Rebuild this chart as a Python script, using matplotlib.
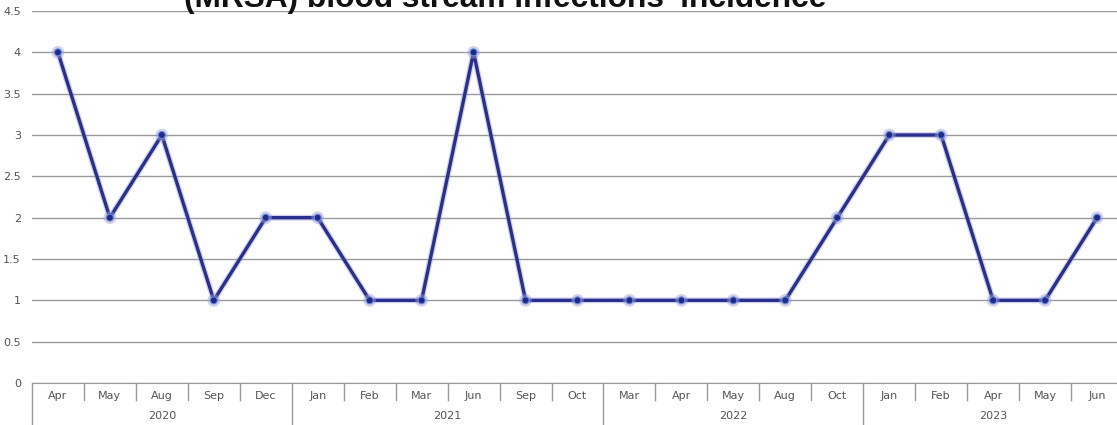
import matplotlib.pyplot as plt
import matplotlib.patheffects as pe
from matplotlib.transforms import blended_transform_factory

# Monthly MRSA bloodstream infection counts, grouped by year
years = ['2020', '2021', '2022', '2023']
months = [
    ['Apr', 'May', 'Aug', 'Sep', 'Dec'],
    ['Jan', 'Feb', 'Mar', 'Jun', 'Sep', 'Oct'],
    ['Mar', 'Apr', 'May', 'Aug', 'Oct'],
    ['Jan', 'Feb', 'Apr', 'May', 'Jun'],
]
cases = [4, 2, 3, 1, 2, 2, 1, 1, 4, 1, 1, 1, 1, 1, 1, 2, 3, 3, 1, 1, 2]

labels = [m for grp in months for m in grp]
x = list(range(len(labels)))

fig = plt.figure(figsize=(11.17, 4.25), dpi=100)
ax = fig.add_axes([0.0286, 0.0988, 0.9768, 0.8753])

ax.plot(x, cases, color='#2a2e8e', lw=2.4, marker='o', markersize=5,
        markerfacecolor='#1f2a88', markeredgecolor='#6a86d8', markeredgewidth=0.8,
        zorder=3, solid_joinstyle='round',
        path_effects=[pe.Stroke(linewidth=4.2, foreground='#9a9ed6', alpha=0.45),
                      pe.Normal()])

ax.set_xlim(-0.5, len(labels) - 0.5)
ax.set_ylim(0, 4.5)
ax.set_yticks([i * 0.5 for i in range(10)])
ax.set_yticklabels(['0', '0.5', '1', '1.5', '2', '2.5', '3', '3.5', '4', '4.5'])
ax.tick_params(axis='y', length=0, pad=8, labelsize=8, labelcolor='#555555')
ax.set_xticks([])
ax.grid(axis='y', color='#9a9a9a', lw=1.0)
ax.set_axisbelow(True)
for s in ['left', 'right', 'top']:
    ax.spines[s].set_visible(False)
ax.spines['bottom'].set_color('#9a9a9a')

# two-level category axis: months then years
tr = blended_transform_factory(ax.transData, ax.transAxes)
for i, lab in enumerate(labels):
    ax.text(i, -0.035, lab, transform=tr, ha='center', va='center',
            fontsize=8, color='#555555')

start = 0
bounds = [-0.5]
for yr, grp in zip(years, months):
    mid = start + (len(grp) - 1) / 2
    ax.text(mid, -0.089, yr, transform=tr, ha='center', va='center',
            fontsize=8, color='#555555')
    start += len(grp)
    bounds.append(start - 0.5)

for i in range(len(labels) + 1):
    xb = i - 0.5
    depth = -0.115 if xb in bounds else -0.046
    ax.plot([xb, xb], [0, depth], transform=tr, color='#9a9a9a', lw=1.0,
            clip_on=False)

fig.text(0.452, 0.9835, "(MRSA) blood stream infections' incidence",
         ha='center', va='baseline', fontsize=22.8, fontweight='bold',
         family='Liberation Sans', color='#111111')

fig.savefig('out.png', dpi=100)
